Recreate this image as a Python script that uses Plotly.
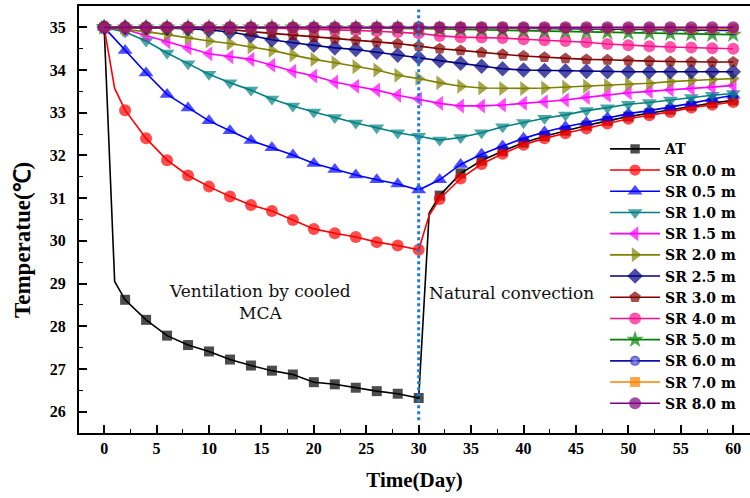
import plotly.graph_objects as go

# ---------------- data ----------------
DAYS = list(range(0, 61, 2))

AT = [35.00, 28.62, 28.15, 27.78, 27.56, 27.41, 27.22, 27.08, 26.96, 26.87, 26.69,
      26.64, 26.56, 26.48, 26.42, 26.32, 31.06, 31.58, 31.88, 32.10, 32.30, 32.45,
      32.58, 32.70, 32.81, 32.91, 32.99, 33.07, 33.16, 33.23, 33.29]
AT_EXTRA = {1: 29.05, 31: 30.65}

SR00 = [35.00, 33.06, 32.40, 31.89, 31.53, 31.27, 31.04, 30.84, 30.70, 30.49, 30.28,
        30.18, 30.09, 29.97, 29.89, 29.79, 30.98, 31.46, 31.80, 32.04, 32.25, 32.40,
        32.52, 32.63, 32.75, 32.86, 32.94, 33.02, 33.12, 33.19, 33.25]
SR00_EXTRA = {1: 33.57, 31: 30.60}

SR05 = [35.00, 34.46, 33.93, 33.43, 33.11, 32.81, 32.58, 32.35, 32.18, 32.01, 31.81,
        31.67, 31.54, 31.43, 31.33, 31.19, 31.43, 31.79, 32.03, 32.22, 32.40, 32.55,
        32.67, 32.77, 32.88, 32.98, 33.05, 33.13, 33.22, 33.32, 33.41]

SR10 = [35.00, 34.89, 34.68, 34.40, 34.15, 33.90, 33.70, 33.53, 33.32, 33.16, 33.02,
        32.89, 32.76, 32.65, 32.53, 32.45, 32.36, 32.42, 32.53, 32.67, 32.77, 32.87,
        32.95, 33.05, 33.12, 33.20, 33.24, 33.30, 33.36, 33.41, 33.45]

SR15 = [35.00, 34.95, 34.81, 34.66, 34.52, 34.38, 34.31, 34.25, 34.11, 33.97, 33.86,
        33.72, 33.62, 33.53, 33.41, 33.32, 33.22, 33.16, 33.16, 33.18, 33.22, 33.26,
        33.30, 33.36, 33.41, 33.47, 33.50, 33.54, 33.57, 33.60, 33.64]

SR20 = [35.00, 34.95, 34.90, 34.83, 34.75, 34.68, 34.62, 34.54, 34.46, 34.35, 34.25,
        34.17, 34.08, 34.00, 33.88, 33.80, 33.70, 33.62, 33.58, 33.57, 33.57, 33.58,
        33.60, 33.62, 33.64, 33.67, 33.69, 33.73, 33.76, 33.78, 33.80]

SR25 = [35.00, 35.00, 34.99, 34.98, 34.97, 34.94, 34.89, 34.81, 34.71, 34.64, 34.58,
        34.52, 34.48, 34.42, 34.35, 34.29, 34.22, 34.16, 34.09, 34.03, 34.00, 33.99,
        33.98, 33.97, 33.96, 33.96, 33.96, 33.96, 33.96, 33.96, 33.96]

SR30 = [35.00, 35.00, 35.00, 35.00, 34.99, 34.98, 34.95, 34.90, 34.86, 34.81, 34.77,
        34.73, 34.70, 34.66, 34.62, 34.56, 34.50, 34.46, 34.41, 34.37, 34.33, 34.30,
        34.27, 34.25, 34.24, 34.22, 34.21, 34.20, 34.19, 34.19, 34.19]

SR40 = [35.00, 35.00, 35.00, 35.00, 35.00, 35.00, 35.00, 34.99, 34.98, 34.97, 34.96,
        34.94, 34.93, 34.91, 34.89, 34.86, 34.80, 34.77, 34.76, 34.75, 34.72, 34.70,
        34.68, 34.65, 34.61, 34.58, 34.56, 34.54, 34.53, 34.51, 34.50]

SR50 = [35.00, 35.00, 35.00, 35.00, 35.00, 35.00, 35.00, 35.00, 35.00, 35.00, 34.99,
        34.99, 34.99, 34.98, 34.98, 34.97, 34.96, 34.95, 34.94, 34.93, 34.92, 34.91,
        34.90, 34.89, 34.88, 34.87, 34.86, 34.85, 34.84, 34.83, 34.83]

SR60 = [35.00, 35.00, 35.00, 35.00, 35.00, 35.00, 35.00, 35.00, 35.00, 35.00, 35.00,
        35.00, 35.00, 35.00, 35.00, 35.00, 35.00, 34.99, 34.99, 34.98, 34.98, 34.97,
        34.97, 34.96, 34.96, 34.95, 34.95, 34.94, 34.94, 34.93, 34.93]

SR70 = [35.00, 35.00, 35.00, 35.00, 35.00, 35.00, 35.00, 35.00, 35.00, 35.00, 35.00,
        35.00, 35.00, 35.00, 35.00, 35.00, 35.00, 35.00, 35.00, 35.00, 34.99, 34.99,
        34.99, 34.99, 34.98, 34.98, 34.98, 34.98, 34.97, 34.97, 34.97]

SR80 = [35.00] * 31

SERIES_NAMES = ["AT", "SR 0.0 m", "SR 0.5 m", "SR 1.0 m", "SR 1.5 m", "SR 2.0 m",
                "SR 2.5 m", "SR 3.0 m", "SR 4.0 m", "SR 5.0 m", "SR 6.0 m",
                "SR 7.0 m", "SR 8.0 m"]
SERIES_VALUES = [AT, SR00, SR05, SR10, SR15, SR20, SR25, SR30, SR40, SR50, SR60, SR70, SR80]
SERIES_EXTRA = [AT_EXTRA, SR00_EXTRA] + [{}] * 11

SWITCH_DAY = 30
ANNOT_VENT = "Ventilation by cooled<br>MCA"
ANNOT_NAT = "Natural convection"
X_TITLE = "Time(Day)"
Y_TITLE = "Temperatue(℃)"

# ---------------- styles ----------------
COLORS = ["#000000", "#FF0000", "#0000FF", "#008080", "#FF00FF", "#808000",
          "#000080", "#800000", "#FF0F8C", "#008000", "#1010A8", "#FF8000", "#800080"]
SYMBOLS = ["square", "circle", "triangle-up", "triangle-down", "triangle-left",
           "triangle-right", "diamond", "pentagon", "circle", "star", "circle",
           "square", "circle"]
SIZES = [10, 12, 13, 13, 13, 13, 12, 12, 12, 13, 10, 10, 12]

SERIF = "Liberation Serif, Times New Roman, serif"
WIDE_SERIF = "DejaVu Serif, serif"

fig = go.Figure()

for name, vals, extra, col, sym, sz in zip(SERIES_NAMES, SERIES_VALUES, SERIES_EXTRA,
                                           COLORS, SYMBOLS, SIZES):
    pts = dict(zip(DAYS, vals))
    pts.update(extra)
    xs = sorted(pts)
    ys = [pts[d] for d in xs]
    msize = [sz if d in DAYS else 0 for d in xs]
    marker = dict(symbol=sym, size=msize, color=col, line=dict(width=0))
    if name == "SR 6.0 m":
        marker["gradient"] = dict(type="radial", color="#9090FF")
    fig.add_trace(go.Scatter(
        x=xs, y=ys, name=name, mode="lines+markers",
        line=dict(color=col, width=1.6),
        marker=marker,
    ))

# vertical dotted divider
fig.add_shape(type="line", x0=SWITCH_DAY, x1=SWITCH_DAY, y0=25.8, y1=35.42,
              xref="x", yref="y", line=dict(color="#1C7CD5", width=3, dash="dot"))

fig.add_annotation(x=14.9, y=28.57, xref="x", yref="y", text=ANNOT_VENT,
                   showarrow=False, font=dict(family=WIDE_SERIF, size=17, color="#111111"),
                   align="center")
fig.add_annotation(x=30.75, y=28.78, xref="x", yref="y", text=ANNOT_NAT,
                   showarrow=False, xanchor="left",
                   font=dict(family=WIDE_SERIF, size=17, color="#111111"))

# y-axis title placed as annotation (centered lower than the axis middle)
fig.add_annotation(x=(23 - 79) / 671, y=(433 - 240) / 427, xref="paper", yref="paper",
                   xanchor="center", yanchor="middle",
                   text=Y_TITLE, showarrow=False, textangle=-90,
                   font=dict(family=SERIF, size=23, color="black", weight="bold"))

axis_common = dict(
    showline=True, linecolor="black", linewidth=2,
    ticks="inside", ticklen=8, tickwidth=1.5, tickcolor="black",
    showgrid=False, zeroline=False,
    tickfont=dict(family=SERIF, size=16, color="black", weight="bold"),
)

fig.update_xaxes(
    range=[-2.4, 61.6], dtick=5, tick0=0, mirror=True,
    minor=dict(ticks="inside", ticklen=4, dtick=2.5, tick0=0, tickcolor="black", tickwidth=1.2),
    title=dict(text=X_TITLE, font=dict(family=SERIF, size=21, color="black", weight="bold"),
               standoff=16),
    **axis_common,
)
fig.update_yaxes(
    range=[25.5, 35.5], dtick=1, tick0=26, ticklabelstandoff=8,
    minor=dict(ticks="inside", ticklen=4, dtick=0.5, tick0=26, tickcolor="black", tickwidth=1.2),
    **axis_common,
)

fig.update_layout(
    width=750, height=498,
    margin=dict(l=79, r=0, t=6, b=65),
    paper_bgcolor="white", plot_bgcolor="white",
    showlegend=True,
    legend=dict(x=0.784, y=0.702, xanchor="left", yanchor="top",
                bgcolor="rgba(0,0,0,0)", borderwidth=0,
                font=dict(family=WIDE_SERIF, size=14, color="black", weight="bold"),
                itemwidth=50, tracegroupgap=0),
)

fig.write_html("out.html")
